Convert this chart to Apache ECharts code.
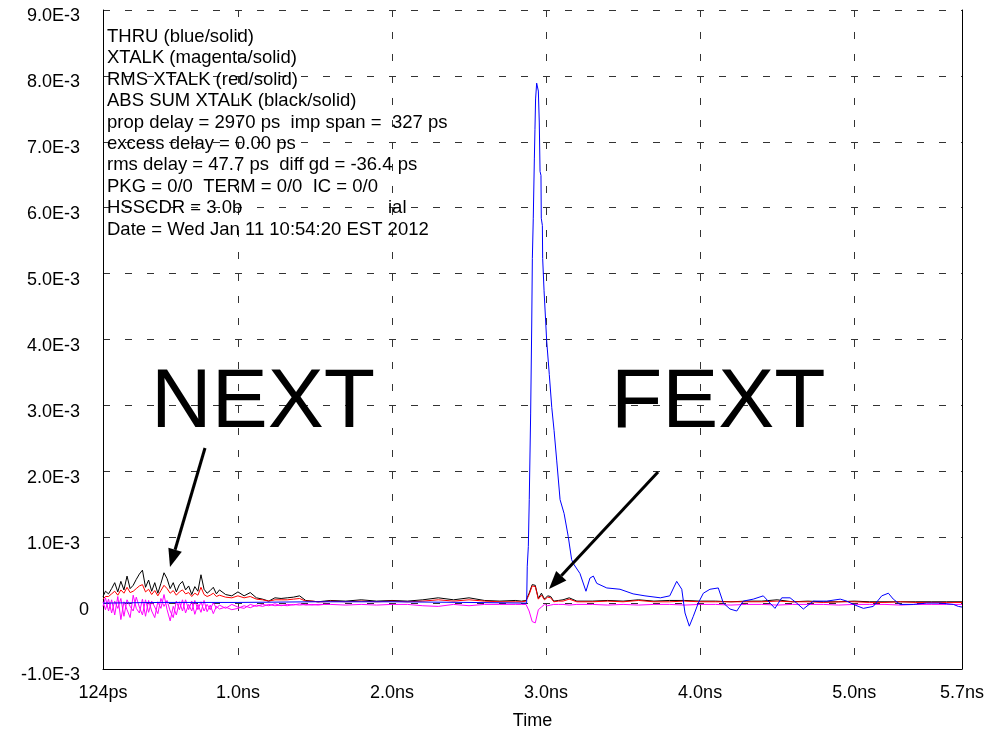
<!DOCTYPE html>
<html><head><meta charset="utf-8">
<script src="https://cdn.jsdelivr.net/npm/echarts/dist/echarts.min.js"></script>
<style>html,body{margin:0;padding:0;background:#fff}#c{width:999px;height:735px}</style>
</head><body><div id="c"></div>
<script>
// time samples (ns) for the crosstalk traces
const xtalkTime = [0.124,0.14,0.16,0.18,0.20,0.22,0.24,0.26,0.28,0.30,0.32,0.34,0.36,0.38,0.40,0.42,0.44,0.46,0.48,0.50,0.52,0.54,0.56,0.58,0.60,0.62,0.64,0.66,0.68,0.70,0.72,0.74,0.76,0.78,0.80,0.82,0.84,0.86,0.88,
 0.92,0.96,1.00,1.04,1.08,1.12,1.16,1.20,1.24,1.28,1.32,1.36,1.40,1.44,1.48,1.52,1.56,
 1.6,1.7,1.8,1.9,2.0,2.1,2.2,2.3,2.4,2.5,2.6,2.7,2.8,
 2.84,2.87,2.89,2.91,2.93,2.95,2.97,2.99,3.01,3.03,3.05,3.08,3.11,3.15,3.2,
 3.3,3.4,3.5,3.6,3.7,3.8,3.9,4.0,4.1,4.2,4.3,4.4,4.5,4.6,4.7,4.8,4.9,5.0,5.1,5.2,5.3,5.4,5.5,5.6,5.7];
// values in units of 1E-3
const absSumXtalk = [0.10,0.18,0.14,0.22,0.31,0.17,0.33,0.20,0.41,0.22,0.27,0.36,0.44,0.50,0.24,0.35,0.18,0.31,0.15,0.30,0.46,0.37,0.22,0.31,0.17,0.28,0.33,0.20,0.26,0.13,0.25,0.18,0.43,0.21,0.15,0.19,0.24,0.14,0.20,
 0.13,0.11,0.17,0.11,0.16,0.08,0.06,0.03,0.08,0.07,0.08,0.09,0.11,0.04,0.03,0.02,0.03,
 0.04,0.03,0.05,0.03,0.04,0.03,0.05,0.08,0.05,0.08,0.04,0.03,0.04,
 0.03,0.04,0.15,0.28,0.27,0.07,0.15,0.06,0.11,0.10,0.03,0.04,0.05,0.08,0.03,
 0.03,0.04,0.03,0.05,0.03,0.04,0.04,0.03,0.03,0.02,0.03,0.03,0.05,0.02,0.03,0.02,0.02,0.03,0.02,0.02,0.02,0.02,0.02,0.02,0.02];
const rmsXtalk = [0.06,0.10,0.10,0.14,0.18,0.12,0.20,0.15,0.24,0.16,0.18,0.22,0.26,0.28,0.17,0.21,0.13,0.19,0.11,0.19,0.27,0.22,0.15,0.19,0.12,0.17,0.20,0.14,0.16,0.10,0.15,0.12,0.24,0.13,0.10,0.12,0.15,0.10,0.12,
 0.09,0.08,0.11,0.08,0.10,0.06,0.05,0.03,0.05,0.05,0.05,0.06,0.07,0.03,0.03,0.02,0.02,
 0.03,0.02,0.03,0.02,0.03,0.02,0.03,0.05,0.03,0.05,0.03,0.02,0.02,
 0.02,0.03,0.13,0.26,0.25,0.06,0.12,0.05,0.09,0.08,0.02,0.03,0.03,0.06,0.02,
 0.02,0.03,0.02,0.04,0.02,0.02,0.03,0.02,0.02,0.02,0.02,0.02,0.03,0.02,0.02,0.01,0.02,0.02,0.01,0.01,0.02,0.01,0.01,0.01,0.01];
const xtalkA = [-0.05,0.08,-0.12,0.05,-0.18,0.10,-0.25,0.02,-0.10,-0.22,0.12,-0.08,-0.15,0.06,-0.20,0.04,-0.12,-0.22,0.02,-0.08,0.13,-0.10,-0.27,-0.05,-0.18,0.02,-0.12,0.05,-0.10,0.03,-0.17,-0.02,-0.14,0.04,-0.13,-0.03,-0.16,-0.05,-0.09,
 -0.06,-0.10,-0.08,-0.04,-0.07,-0.03,-0.05,-0.02,-0.04,-0.03,-0.04,-0.02,-0.03,-0.02,-0.03,-0.02,-0.02,
 -0.02,-0.03,-0.02,-0.03,-0.02,-0.02,-0.04,-0.05,-0.02,-0.04,-0.02,-0.02,-0.02,
 -0.02,-0.02,-0.12,-0.28,-0.30,-0.10,-0.06,-0.02,-0.04,-0.03,-0.02,-0.02,-0.02,-0.03,-0.02,
 -0.02,-0.03,-0.02,-0.03,-0.02,-0.02,-0.03,-0.02,-0.02,-0.03,-0.02,-0.02,-0.03,-0.02,-0.02,-0.02,-0.03,-0.02,-0.02,-0.02,-0.03,-0.02,-0.02,-0.02,-0.02];
const xtalkB = [0.02,-0.10,0.06,-0.15,0.03,-0.08,0.07,-0.20,0.05,-0.05,-0.12,0.09,-0.06,-0.18,0.05,-0.14,0.03,-0.06,-0.16,0.07,-0.05,0.04,-0.12,-0.22,0.03,-0.10,0.05,-0.15,-0.02,-0.12,0.04,-0.10,0.02,-0.12,-0.02,-0.10,0.01,-0.08,-0.03,
 -0.08,-0.02,-0.06,-0.08,-0.02,-0.05,-0.02,-0.04,-0.01,-0.04,-0.02,-0.03,-0.01,-0.03,-0.02,-0.03,-0.02,
 -0.02];
// THRU trace
const thruTime = [0.124,0.5,1.0,1.5,2.0,2.5,2.874,2.878,2.885,2.891,2.900,2.907,2.911,2.917,2.924,2.928,2.932,2.939,2.950,2.956,2.961,2.967,2.969,2.976,2.978,2.987,3.004,3.021,3.037,3.052,3.069,3.091,3.117,3.144,3.166,3.177,3.220,3.259,3.285,3.307,3.329,3.394,3.480,3.565,3.642,3.742,3.803,3.848,3.881,3.902,3.930,3.956,3.988,4.021,4.064,4.118,4.151,4.194,4.238,4.280,4.345,4.410,4.454,4.486,4.530,4.584,4.627,4.670,4.735,4.822,4.910,4.952,4.995,5.060,5.124,5.179,5.222,5.254,5.298,5.384,5.471,5.557,5.644,5.676,5.700];
const thru = [0.00,0.01,0.01,0.02,0.02,0.01,0.00,0.56,0.86,1.57,2.87,4.22,5.23,5.84,6.74,7.19,7.65,7.89,7.77,7.30,6.55,6.49,5.84,5.73,5.23,4.74,3.98,3.47,2.97,2.62,2.17,1.57,1.36,1.01,0.66,0.60,0.45,0.18,0.38,0.41,0.30,0.23,0.21,0.14,0.11,0.08,0.11,0.33,0.21,-0.15,-0.35,-0.20,0.00,0.15,0.21,0.23,0.00,-0.09,-0.12,0.03,0.06,0.11,0.00,-0.08,0.08,0.08,0.00,-0.09,0.03,0.03,0.06,0.03,-0.02,-0.08,-0.05,0.11,0.15,0.06,-0.02,-0.02,0.00,0.00,-0.02,-0.05,-0.06];

const infoLines = ['THRU (blue/solid)','XTALK (magenta/solid)','RMS XTALK (red/solid)','ABS SUM XTALK (black/solid)',
 'prop delay = 2970 ps  imp span =  327 ps','excess delay = 0.00 ps','rms delay = 47.7 ps  diff gd = -36.4 ps',
 'PKG = 0/0  TERM = 0/0  IC = 0/0','HSSCDR = 3.0b','Date = Wed Jan 11 10:54:20 EST 2012'];

const FONT = '"Liberation Sans", Arial, sans-serif';
const zip = (t, v) => v.map((y, i) => [t[i], y]);
const chart = echarts.init(document.getElementById('c'), null, {renderer: 'canvas'});
const grid = {left: 103, right: 37, top: 10, bottom: 62};
const dash = {color: '#333', width: 1, type: [7, 15]};

const graphics = [];
infoLines.forEach((s, i) => {
  graphics.push({type: 'text', x: 107, y: 37 + i * 21.4, z: 50,
    style: {text: s, fontSize: 18.5, fontFamily: FONT, fill: '#000', align: 'left', verticalAlign: 'middle'}});
});
graphics.push({type: 'text', x: 388, y: 37 + 8 * 21.4, z: 50,
  style: {text: 'ial', fontSize: 18.5, fontFamily: FONT, fill: '#000', align: 'left', verticalAlign: 'middle'}});
graphics.push({type: 'text', x: 151, y: 404, z: 50,
  style: {text: 'NEXT', fontSize: 84, fontFamily: FONT, fill: '#000', align: 'left', verticalAlign: 'middle'}});
graphics.push({type: 'text', x: 611, y: 404, z: 50,
  style: {text: 'FEXT', fontSize: 84, fontFamily: FONT, fill: '#000', align: 'left', verticalAlign: 'middle'}});
function arrow(x1, y1, x2, y2) {
  const dx = x2 - x1, dy = y2 - y1, L = Math.hypot(dx, dy), ux = dx / L, uy = dy / L;
  const bx = x2 - 18 * ux, by = y2 - 18 * uy, px = -uy * 7, py = ux * 7;
  graphics.push({type: 'line', z: 60, shape: {x1, y1, x2: bx, y2: by}, style: {stroke: '#000', lineWidth: 3}});
  graphics.push({type: 'polygon', z: 60, shape: {points: [[x2, y2], [bx + px, by + py], [bx - px, by - py]]}, style: {fill: '#000'}});
}
arrow(205, 448, 170, 567);
arrow(658, 472, 549, 589);

const lineS = (name, data, color) => ({name, type: 'line', data, showSymbol: false, symbol: 'none',
  lineStyle: {color, width: 1}, itemStyle: {color}, animation: false, silent: true});

chart.setOption({
  backgroundColor: '#fff',
  animation: false,
  grid,
  xAxis: {
    type: 'value', min: 0.124, max: 5.7, minInterval: 1, maxInterval: 1,
    name: 'Time', nameLocation: 'middle', nameGap: 43,
    nameTextStyle: {fontSize: 18, fontFamily: FONT, color: '#000'},
    axisLine: {show: true, onZero: false, lineStyle: {color: '#000', width: 1}},
    axisTick: {show: false},
    axisLabel: {show: true, margin: 15, fontSize: 18, fontFamily: FONT, color: '#000', showMinLabel: true, showMaxLabel: true,
      formatter: v => Math.abs(v - 0.124) < 1e-6 ? '124ps' : v.toFixed(1) + 'ns'},
    splitLine: {show: true, lineStyle: dash}
  },
  yAxis: [{
    type: 'value', min: -1, max: 9, interval: 1,
    axisLine: {show: true, lineStyle: {color: '#000', width: 1}},
    axisTick: {show: false},
    axisLabel: {margin: 14, padding: [13, 0, 0, 0], fontSize: 18, fontFamily: FONT, color: '#000',
      formatter: v => v === 0 ? '{z|0}' : '{n|' + v.toFixed(1) + 'E-3}',
      rich: {n: {fontSize: 18, fontFamily: FONT, color: '#000', padding: [0, 9, 0, 0]},
             z: {fontSize: 18, fontFamily: FONT, color: '#000'}}},
    splitLine: {show: true, lineStyle: dash}
  }, {
    type: 'value', min: -1, max: 9, interval: 1, position: 'right',
    axisLine: {show: true, lineStyle: {color: '#000', width: 1}},
    axisTick: {show: false}, axisLabel: {show: false}, splitLine: {show: false}
  }],
  series: [
    lineS('ABS SUM XTALK', zip(xtalkTime, absSumXtalk), '#000000'),
    lineS('RMS XTALK', zip(xtalkTime, rmsXtalk), '#ff0000'),
    lineS('XTALK', zip(xtalkTime, xtalkA), '#ff00ff'),
    lineS('XTALK 2', zip(xtalkTime, xtalkB), '#ff00ff'),
    lineS('THRU', zip(thruTime, thru), '#0000ff')
  ],
  graphic: graphics
});
</script></body></html>
